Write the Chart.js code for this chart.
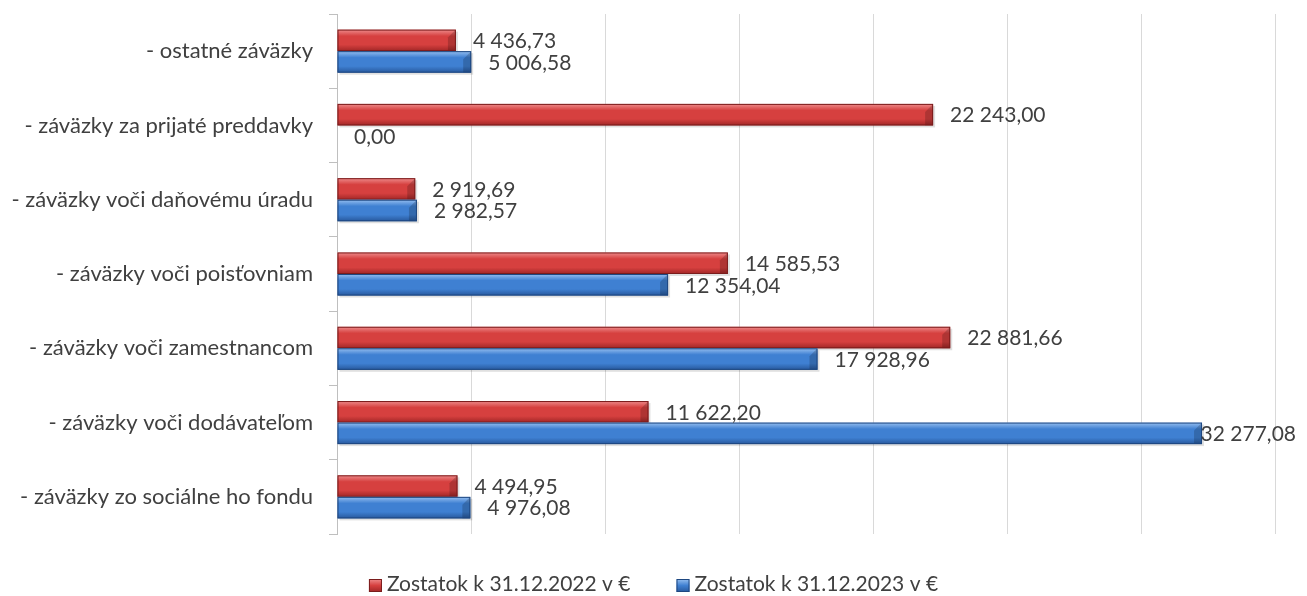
<!DOCTYPE html>
<html>
<head>
<meta charset="utf-8">
<script src="https://cdn.jsdelivr.net/npm/chart.js@4/dist/chart.umd.min.js"></script>
<style>
  body { margin: 0; background: #fff; }
  #wrap { width: 1307px; height: 596px; }
</style>
</head>
<body>
<div id="wrap"><canvas id="chart"></canvas></div>
<script>
const categories = [
    '- ostatné záväzky',
    '- záväzky za prijaté preddavky',
    '- záväzky voči daňovému úradu',
    '- záväzky voči poisťovniam',
    '- záväzky voči zamestnancom',
    '- záväzky voči dodávateľom',
    '- záväzky zo sociálne ho fondu'
]
const values2022 = [4436.73, 22243.00, 2919.69, 14585.53, 22881.66, 11622.20, 4494.95]
const values2023 = [5006.58, 0.00, 2982.57, 12354.04, 17928.96, 32277.08, 4976.08]
const seriesNames = ['Zostatok k 31.12.2022 v €', 'Zostatok k 31.12.2023 v €']

const FONT = 'Lato, "Open Sans", sans-serif'
const TEXT = '#404040'

// bevel look: top light, bottom dark
const shades = [
    { top: '#ee8c8c', mid: '#d6403f', bot: '#a02626', edge: '#7a1c1c' },
    { top: '#96bff0', mid: '#3f80d2', bot: '#27589c', edge: '#1e4780' }
]

function fmt(v) {
    const parts = v.toFixed(2).split('.')
    parts[0] = parts[0].replace(/\B(?=(\d{3})+(?!\d))/g, ' ')
    return parts.join(',')
}

function drawBar(ctx, bar, s) {
    const top = bar.y - bar.height / 2
    const h = bar.height
    const left = Math.min(bar.base, bar.x)
    const w = Math.abs(bar.x - bar.base)
    if (w < 1) return
    // soft shadow
    ctx.fillStyle = 'rgba(0,0,0,0.12)'
    ctx.fillRect(left + 2, top + 2, w, h)
    const g = ctx.createLinearGradient(0, top, 0, top + h)
    g.addColorStop(0, s.top)
    g.addColorStop(0.3, s.mid)
    g.addColorStop(0.7, s.mid)
    g.addColorStop(1, s.bot)
    ctx.fillStyle = g
    ctx.fillRect(left, top, w, h)
    // bevel at the end of the bar
    const b = Math.min(8, w)
    ctx.fillStyle = 'rgba(0,0,0,0.18)'
    ctx.beginPath()
    ctx.moveTo(left + w - b, top + b)
    ctx.lineTo(left + w, top)
    ctx.lineTo(left + w, top + h)
    ctx.lineTo(left + w - b, top + h)
    ctx.closePath()
    ctx.fill()
    ctx.strokeStyle = s.edge
    ctx.lineWidth = 1
    ctx.strokeRect(left + 0.5, top + 0.5, w - 1, h - 1)
}

const barPlugin = {
    id: 'bevelBars',
    afterDatasetsDraw(chart) {
        const ctx = chart.ctx
        ctx.save()
        chart.data.datasets.forEach((ds, i) => {
            chart.getDatasetMeta(i).data.forEach(bar => drawBar(ctx, bar, shades[i]))
        })
        // value labels
        ctx.font = '21px ' + FONT
        ctx.fillStyle = TEXT
        ctx.textBaseline = 'middle'
        ctx.textAlign = 'left'
        chart.data.datasets.forEach((ds, i) => {
            chart.getDatasetMeta(i).data.forEach((bar, j) => {
                const txt = fmt(ds.data[j])
                const w = ctx.measureText(txt).width
                let x = bar.x + 17
                if (x + w > 1296) x = 1296 - w
                ctx.fillText(txt, x, bar.y + 1)
            })
        })
        ctx.restore()
    }
}

const legendPlugin = {
    id: 'bottomLegend',
    afterDraw(chart) {
        const ctx = chart.ctx
        ctx.save()
        ctx.font = '21px ' + FONT
        ctx.textBaseline = 'alphabetic'
        ctx.textAlign = 'left'
        const box = 13, gap = 5, between = 46
        const widths = seriesNames.map(n => ctx.measureText(n).width)
        const total = widths.reduce((a, w) => a + box + gap + w, 0) + between * (seriesNames.length - 1)
        let x = (chart.width - total) / 2
        const base = 591
        seriesNames.forEach((name, i) => {
            const s = shades[i]
            const g = ctx.createLinearGradient(0, base - 12, 0, base + 1)
            g.addColorStop(0, s.top)
            g.addColorStop(0.5, s.mid)
            g.addColorStop(1, s.bot)
            ctx.fillStyle = g
            ctx.fillRect(x, base - 12, box, box)
            ctx.strokeStyle = s.edge
            ctx.strokeRect(x + 0.5, base - 11.5, box - 1, box - 1)
            ctx.fillStyle = TEXT
            ctx.fillText(name, x + box + gap, base)
            x += box + gap + widths[i] + between
        })
        ctx.restore()
    }
}

new Chart(document.getElementById('chart'), {
    type: 'bar',
    data: {
        labels: categories,
        datasets: [
            { label: seriesNames[0], data: values2022, backgroundColor: 'rgba(0,0,0,0)', borderWidth: 0 },
            { label: seriesNames[1], data: values2023, backgroundColor: 'rgba(0,0,0,0)', borderWidth: 0 }
        ]
    },
    options: {
        indexAxis: 'y',
        responsive: true,
        maintainAspectRatio: false,
        animation: false,
        categoryPercentage: 0.58,
        barPercentage: 1,
        layout: { padding: { top: 14, right: 32, left: 0, bottom: 0 } },
        scales: {
            x: {
                min: 0,
                max: 35000,
                ticks: { display: false, stepSize: 5000 },
                grid: { color: '#d9d9d9', drawTicks: false },
                border: { display: false },
                afterFit(scale) {
                    scale.height = 62
                    scale.paddingLeft = 0
                    scale.paddingRight = 0
                }
            },
            y: {
                ticks: { color: TEXT, font: { family: FONT, size: 22 }, padding: 16 },
                grid: { display: true, drawOnChartArea: false, tickLength: 8, color: '#bfbfbf' },
                border: { display: true, color: '#bfbfbf' },
                afterFit(scale) {
                    scale.width = 337
                    scale.paddingTop = 0
                    scale.paddingBottom = 0
                }
            }
        },
        plugins: {
            tooltip: { enabled: false },
            legend: { display: false }
        }
    },
    plugins: [barPlugin, legendPlugin]
})
</script>
</body>
</html>
